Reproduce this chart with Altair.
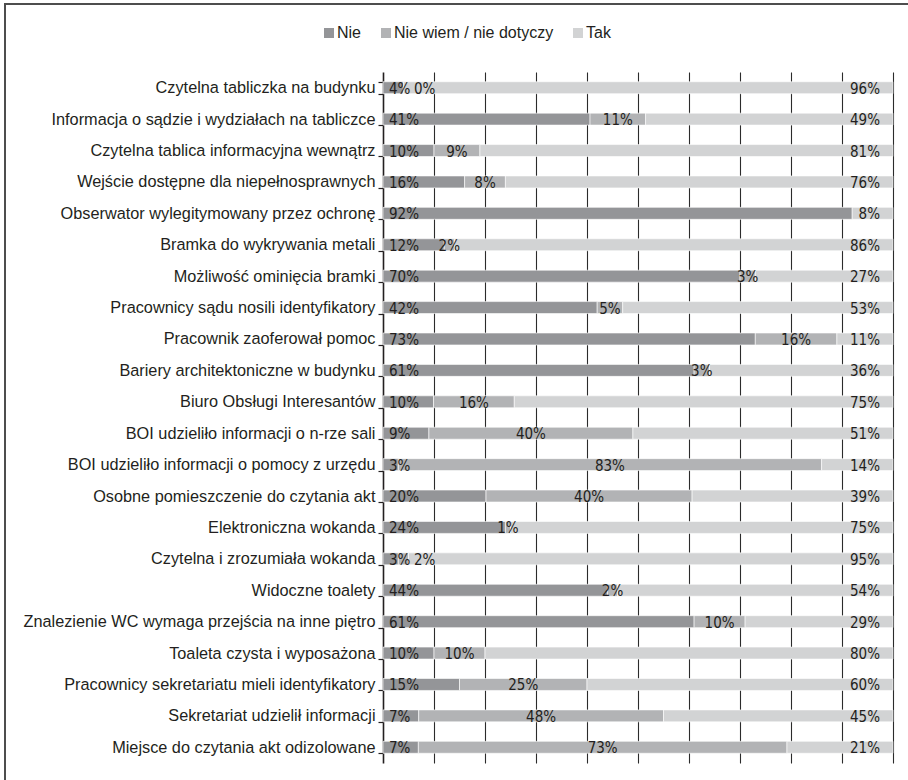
import altair as alt
import pandas as pd

# Survey items (top to bottom) and answer shares in percent
kategorie = [
    "Czytelna tabliczka na budynku",
    "Informacja o sądzie i wydziałach na tabliczce",
    "Czytelna tablica informacyjna wewnątrz",
    "Wejście dostępne dla niepełnosprawnych",
    "Obserwator wylegitymowany przez ochronę",
    "Bramka do wykrywania metali",
    "Możliwość ominięcia bramki",
    "Pracownicy sądu nosili identyfikatory",
    "Pracownik zaoferował pomoc",
    "Bariery architektoniczne w budynku",
    "Biuro Obsługi Interesantów",
    "BOI udzieliło informacji o n-rze sali",
    "BOI udzieliło informacji o pomocy z urzędu",
    "Osobne pomieszczenie do czytania akt",
    "Elektroniczna wokanda",
    "Czytelna i zrozumiała wokanda",
    "Widoczne toalety",
    "Znalezienie WC wymaga przejścia na inne piętro",
    "Toaleta czysta i wyposażona",
    "Pracownicy sekretariatu mieli identyfikatory",
    "Sekretariat udzielił informacji",
    "Miejsce do czytania akt odizolowane",
]
nie = [4, 41, 10, 16, 92, 12, 70, 42, 73, 61, 10, 9, 3, 20, 24, 3, 44, 61, 10, 15, 7, 7]
nie_wiem = [0, 11, 9, 8, None, 2, 3, 5, 16, 3, 16, 40, 83, 40, 1, 2, 2, 10, 10, 25, 48, 73]
tak = [96, 49, 81, 76, 8, 86, 27, 53, 11, 36, 75, 51, 14, 39, 75, 95, 54, 29, 80, 60, 45, 21]

odpowiedzi = ["Nie", "Nie wiem / nie dotyczy", "Tak"]
kolory = ["#949598", "#b2b3b5", "#d2d3d4"]
siatka = [0.1, 0.2, 0.3, 0.4, 0.5, 0.6, 0.7, 0.8, 0.9, 1.0]

TEXT = "#231f20"
LABEL_FONT = "Liberation Sans"
VALUE_FONT = "Liberation Sans Narrow, DejaVu Sans Condensed, Liberation Sans, sans-serif"

# Long table for the stacked bars
rows = []
for k, a, b, c in zip(kategorie, nie, nie_wiem, tak):
    for i, (odp, v) in enumerate(zip(odpowiedzi, (a, b, c))):
        if v is not None:
            rows.append({"kategoria": k, "odp": odp, "kolejnosc": i, "wartosc": v})
bars_df = pd.DataFrame(rows)

# Value labels: "Nie" at the bar start, middle answer centred on its segment
# (or set just after the "Nie" label when that segment sits at the very start),
# "Tak" at the bar end
lab = []
for k, a, b, c in zip(kategorie, nie, nie_wiem, tak):
    total = a + (b or 0) + c
    lab.append({"kategoria": k, "typ": "nie", "pos": 0.0, "tekst": f"{a}%"})
    if b is not None:
        srodek = (a + b / 2) / total
        if srodek < 0.05:
            lab.append({"kategoria": k, "typ": "mid_start", "pos": 0.0, "tekst": f"{b}%"})
        else:
            lab.append({"kategoria": k, "typ": "mid", "pos": srodek, "tekst": f"{b}%"})
    lab.append({"kategoria": k, "typ": "tak", "pos": 1.0, "tekst": f"{c}%"})
labels_df = pd.DataFrame(lab)

xscale = alt.Scale(domain=[0, 1], nice=False, zero=True)
yenc = alt.Y(
    "kategoria:N",
    sort=kategorie,
    scale=alt.Scale(paddingInner=0.62, paddingOuter=0.31),
    axis=alt.Axis(
        title=None,
        labelFont=LABEL_FONT,
        labelFontSize=16.3,
        labelColor=TEXT,
        labelPadding=3,
        labelLimit=400,
        tickSize=5,
        tickBand="extent",
        tickColor=TEXT,
        tickWidth=1.2,
        domainColor=TEXT,
        domainWidth=1.6,
        grid=False,
    ),
)

bars = alt.Chart(bars_df).mark_bar(stroke="white", strokeWidth=0.6).encode(
    x=alt.X(
        "wartosc:Q",
        stack="normalize",
        scale=xscale,
        axis=alt.Axis(
            title=None,
            labels=False,
            ticks=False,
            domain=False,
            grid=True,
            values=siatka,
            gridColor="#2b2b2b",
            gridWidth=1.1,
        ),
    ),
    y=yenc,
    color=alt.Color(
        "odp:N",
        scale=alt.Scale(domain=odpowiedzi, range=kolory),
        legend=alt.Legend(
            title=None,
            orient="none",
            legendX=-62,
            legendY=-47,
            direction="horizontal",
            symbolType="square",
            symbolSize=100,
            symbolStrokeWidth=0,
            labelFont=LABEL_FONT,
            labelFontSize=16,
            labelColor=TEXT,
            labelOffset=0,
            columnPadding=16,
        ),
    ),
    order=alt.Order("kolejnosc:Q"),
)


def value_text(typ, align, dx):
    return (
        alt.Chart(labels_df)
        .transform_filter(alt.datum.typ == typ)
        .mark_text(
            font=VALUE_FONT,
            fontSize=15,
            color=TEXT,
            align=align,
            baseline="middle",
            dx=dx,
            dy=1,
        )
        .encode(
            x=alt.X("pos:Q", scale=xscale),
            y=alt.Y("kategoria:N", sort=kategorie),
            text="tekst:N",
        )
    )


t_nie = value_text("nie", "left", 6)
t_mid = value_text("mid", "center", 0)
t_mid_start = value_text("mid_start", "left", 31)
t_tak = value_text("tak", "right", -13)

# Frame around the whole figure
ramka = alt.Chart(pd.DataFrame({"r": [0]})).mark_rect(
    fillOpacity=0, stroke="#4d4d4d", strokeWidth=2
).encode(
    x=alt.value(-378),
    x2=alt.value(560),
    y=alt.value(-68),
    y2=alt.value(760),
)

chart = (
    alt.layer(bars, t_nie, t_mid, t_mid_start, t_tak, ramka)
    .properties(
        width=510,
        height=691,
        autosize=alt.AutoSizeParams(type="none"),
        padding={"left": 383, "top": 72, "right": 15, "bottom": 17},
        background="white",
    )
    .configure_view(stroke=None)
)

chart.save("out.html", embed_options={"renderer": "svg", "actions": False})
